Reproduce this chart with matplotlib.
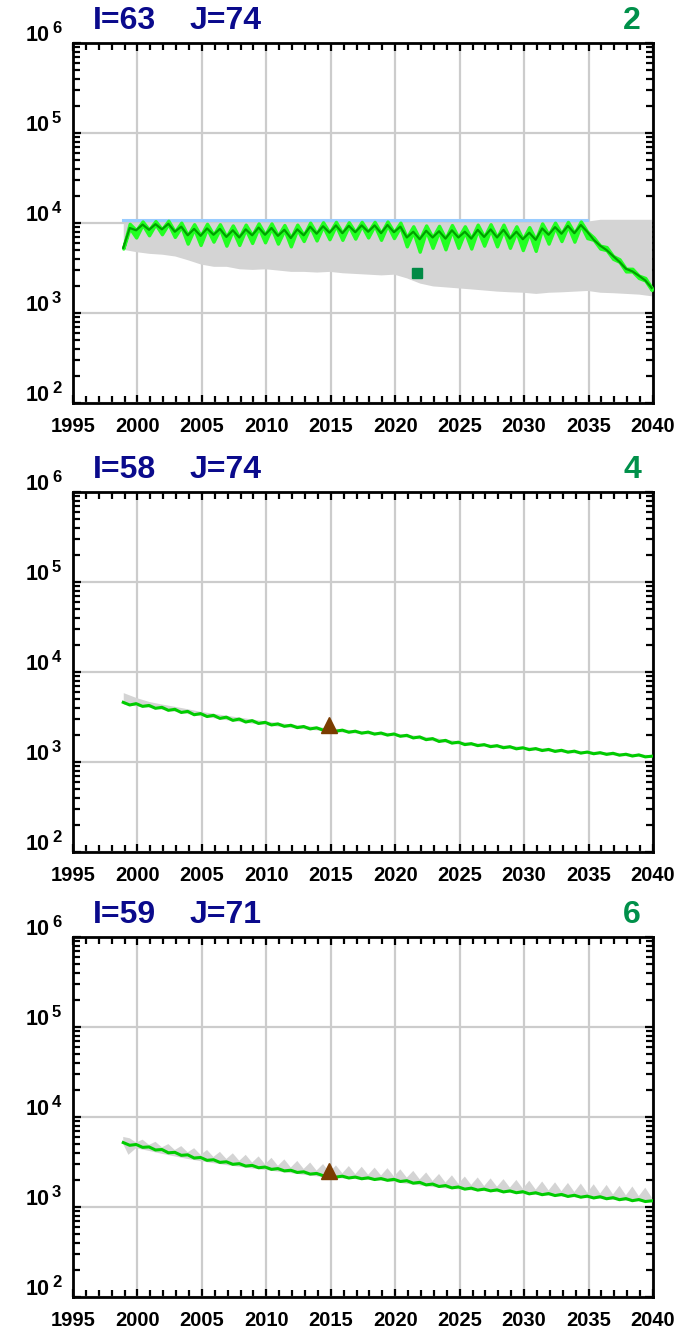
import numpy as np
import matplotlib
matplotlib.use('Agg')
import matplotlib.pyplot as plt
from matplotlib.ticker import FixedLocator, MultipleLocator, LogLocator, NullFormatter
import matplotlib.transforms as mtransforms

plt.rcParams['font.family'] = ['Liberation Sans', 'DejaVu Sans']
plt.rcParams['font.weight'] = 'bold'

# ---- data ----
# half-year sampling: "x.9" points and "x.4" points
t_x9 = np.arange(1998.9, 2040.0, 1.0)   # 42 points
t_x4 = np.arange(1999.4, 2040.0, 1.0)   # 41 points

panel_titles = [("I=63", "J=74", "2"), ("I=58", "J=74", "4"), ("I=59", "J=71", "6")]

# panel 1 median (dark green)
p1_med_x9 = [5300, 8300, 8400, 8500, 8000, 7300, 7200, 7400, 7000, 6900, 7300, 7400, 7200, 6800,
             7300, 7600, 7800, 7700, 7900, 8000, 7700, 7900, 6900, 6600, 6900, 6700, 6900, 6700,
             7000, 6900, 6700, 6600, 6500, 7400, 7600, 7700, 8000, 5600, 4300, 3100, 2600, 1900]
p1_med_x4 = [8800, 9600, 9700, 9800, 9100, 8600, 8700, 8600, 8300, 8500, 8900, 8800, 8400, 8500,
             9100, 9200, 9400, 9300, 9400, 9400, 9500, 9100, 8000, 8200, 8100, 8300, 8000, 8400,
             8500, 8400, 8000, 7800, 8700, 9000, 9300, 9500, 6500, 5000, 3700, 2900, 2300]
# panel 1 bright green envelope spikes
p1_env_lo_x9 = [5200, 6900, 7300, 7500, 7000, 5900, 5700, 6200, 5600, 5700, 6000, 6100, 5900, 5500,
                6300, 6400, 6600, 6500, 6700, 6900, 6500, 6800, 5500, 4800, 5300, 5100, 5300, 5200,
                5600, 5500, 5300, 5000, 4900, 5900, 6300, 6200, 6800, 5200, 4000, 2900, 2450, 1800]
p1_env_hi_x4 = [9800, 10400, 10500, 10600, 10100, 9700, 9800, 9700, 9400, 9600, 9900, 9900, 9500,
                9600, 10100, 10200, 10300, 10200, 10300, 10300, 10400, 10100, 9200, 9400, 9300,
                9500, 9200, 9600, 9700, 9600, 9200, 9000, 9900, 10100, 10300, 10400, 6900, 5400,
                3950, 3100, 2450]
# panel 1 gray ensemble range (yearly, at x.9)
p1_gray_hi = [10000, 10200, 10200, 10300, 10200, 10200, 10200, 10100, 10200, 10200, 10200, 10100,
              10200, 10200, 10200, 10200, 10200, 10200, 10200, 10200, 10200, 10200, 10200, 10200,
              10200, 10200, 10200, 10200, 10200, 10200, 10200, 10200, 10200, 10200, 10200, 10200,
              10500, 11000, 11000, 11000, 11000, 11000]
p1_gray_lo = [5100, 4800, 4600, 4500, 4300, 3900, 3500, 3300, 3300, 3100, 3050, 3100, 3000, 2900,
              2900, 2850, 2900, 2800, 2750, 2700, 2650, 2700, 2450, 2150, 2000, 1950, 1900, 1850,
              1800, 1750, 1720, 1700, 1650, 1700, 1720, 1750, 1780, 1700, 1680, 1650, 1620, 1550]
p1_blue_t = [1998.9, 2034.9]
p1_blue_v = [10900, 10900]
p1_square = (2021.7, 2800)

# panel 2 green line
p2_x9 = [4600, 4450, 4250, 4050, 3850, 3650, 3450, 3300, 3150, 3000, 2880, 2760, 2650, 2560,
         2480, 2400, 2330, 2260, 2200, 2150, 2100, 2050, 1980, 1900, 1820, 1740, 1660, 1600,
         1560, 1520, 1480, 1440, 1410, 1380, 1350, 1320, 1290, 1270, 1250, 1220, 1200, 1160]
p2_x4 = [4300, 4150, 3950, 3750, 3550, 3350, 3200, 3050, 2900, 2780, 2680, 2580, 2490, 2410,
         2330, 2260, 2200, 2140, 2090, 2040, 1990, 1930, 1850, 1770, 1690, 1620, 1560, 1520,
         1480, 1440, 1400, 1370, 1340, 1310, 1285, 1255, 1235, 1215, 1190, 1165, 1140]
p2_gray_hi = [5900, 5200, 4700, 4400, 4150, 3900, 3650, 3480, 3300, 3150, 3000, 2870, 2750, 2650,
              2560, 2470, 2400, 2330, 2270, 2210, 2160, 2110, 2040, 1960, 1880, 1800, 1720, 1650,
              1610, 1570, 1530, 1490, 1460, 1420, 1390, 1360, 1330, 1310, 1290, 1260, 1240, 1200]
p2_gray_lo = [4400, 4200, 4050, 3850, 3650, 3450, 3250, 3100, 2950, 2820, 2700, 2600, 2500, 2420,
              2340, 2270, 2210, 2150, 2100, 2050, 2000, 1950, 1880, 1800, 1720, 1650, 1580, 1530,
              1490, 1450, 1410, 1380, 1350, 1320, 1290, 1260, 1240, 1220, 1195, 1170, 1150, 1120]
p2_triangle = (2014.9, 2550)

# panel 3 green line
p3_x9 = [5200, 4950, 4650, 4350, 4050, 3800, 3550, 3350, 3180, 3030, 2900, 2780, 2670, 2560,
         2460, 2360, 2260, 2200, 2150, 2110, 2070, 2030, 1960, 1880, 1800, 1730, 1670, 1620,
         1580, 1550, 1510, 1480, 1440, 1410, 1380, 1350, 1320, 1300, 1270, 1240, 1210, 1170]
p3_x4 = [4850, 4600, 4300, 4000, 3750, 3500, 3300, 3130, 2980, 2850, 2730, 2620, 2520, 2420,
         2320, 2230, 2150, 2100, 2060, 2020, 1980, 1920, 1840, 1760, 1690, 1630, 1580, 1540,
         1510, 1470, 1440, 1400, 1370, 1340, 1310, 1285, 1260, 1235, 1205, 1175, 1150]
# panel 3 gray upper edge (spiky) and lower edge
p3_gray_hi_x9 = [6000, 5200, 4900, 4600, 4300, 4050, 3800, 3600, 3420, 3260, 3120, 2990, 2870,
                 2750, 2650, 2540, 2430, 2370, 2320, 2280, 2240, 2190, 2120, 2030, 1950, 1870,
                 1810, 1760, 1710, 1680, 1640, 1600, 1560, 1530, 1500, 1470, 1440, 1410, 1380,
                 1350, 1320, 1280]
p3_gray_hi_x4 = [5800, 5600, 5300, 5000, 4750, 4500, 4300, 4100, 3950, 3800, 3650, 3520, 3380,
                 3250, 3120, 3000, 2900, 2850, 2800, 2740, 2700, 2620, 2520, 2420, 2330, 2250,
                 2180, 2130, 2080, 2040, 2000, 1960, 1920, 1880, 1850, 1820, 1790, 1760, 1720,
                 1690, 1640]
p3_gray_lo = [5000, 3800, 4500, 4200, 3900, 3650, 3420, 3230, 3070, 2920, 2800, 2680, 2580, 2470,
              2380, 2280, 2190, 2130, 2080, 2040, 2000, 1960, 1890, 1810, 1740, 1670, 1610, 1570,
              1530, 1500, 1460, 1430, 1390, 1360, 1330, 1300, 1280, 1250, 1230, 1200, 1170, 1140]
p3_gray_lo_t = [1998.9, 1999.3, 1999.9, 2000.9, 2001.9, 2002.9, 2003.9, 2004.9, 2005.9, 2006.9,
                2007.9, 2008.9, 2009.9, 2010.9, 2011.9, 2012.9, 2013.9, 2014.9, 2015.9, 2016.9,
                2017.9, 2018.9, 2019.9, 2020.9, 2021.9, 2022.9, 2023.9, 2024.9, 2025.9, 2026.9,
                2027.9, 2028.9, 2029.9, 2030.9, 2031.9, 2032.9, 2033.9, 2034.9, 2035.9, 2036.9,
                2037.9, 2039.9]
p3_triangle = (2014.9, 2500)

x_ticks = [1995, 2000, 2005, 2010, 2015, 2020, 2025, 2030, 2035, 2040]
y_ticks = [1e2, 1e3, 1e4, 1e5, 1e6]
y_exponents = ['2', '3', '4', '5', '6']

NAVY = '#0a0a8c'
TAG_GREEN = '#00904a'
GRAY = '#d4d4d4'
LINE_GREEN = '#00cc00'
LIME = '#22ff22'
DARK_GREEN = '#00a000'
BROWN = '#7a3c00'


def interleave(a_x9, a_x4):
    # merge x.9 and x.4 samples into one time-ordered series
    t = np.empty(len(a_x9) + len(a_x4))
    v = np.empty_like(t)
    t[0::2], v[0::2] = t_x9, a_x9
    t[1::2], v[1::2] = t_x4, a_x4
    return t, v


fig = plt.figure(figsize=(7.0, 13.33), dpi=100)
bottoms = [1 - 403 / 1333, 1 - 852 / 1333, 1 - 1297 / 1333]
axes = [fig.add_axes([73 / 700, b, 580 / 700, 360 / 1333]) for b in bottoms]

for ax, (ti, tj, tag) in zip(axes, panel_titles):
    ax.set_yscale('log')
    ax.set_xlim(1995, 2040)
    ax.set_ylim(1e2, 1e6)
    ax.xaxis.set_major_locator(FixedLocator(x_ticks))
    ax.xaxis.set_minor_locator(MultipleLocator(1))
    ax.yaxis.set_major_locator(FixedLocator(y_ticks))
    ax.yaxis.set_minor_locator(LogLocator(base=10, subs=np.arange(2, 10)))
    ax.yaxis.set_minor_formatter(NullFormatter())
    ax.set_xticklabels([str(x) for x in x_ticks])
    ax.tick_params(which='both', direction='in', top=True, right=True, width=1.6, color='black')
    ax.tick_params(which='major', length=6)
    ax.tick_params(which='minor', length=5)
    ax.tick_params(axis='x', which='major', labelsize=14.5, pad=10)
    ax.tick_params(axis='y', which='both', labelleft=False)
    # y labels drawn as "10" + raised exponent
    trans = mtransforms.blended_transform_factory(ax.transAxes, ax.transData)
    for yv, ex in zip(y_ticks, y_exponents):
        ax.text(0, yv, '10', fontsize=15.5, fontweight='bold', ha='right', va='baseline',
                transform=trans + mtransforms.ScaledTranslation(-0.23, 0.02, fig.dpi_scale_trans))
        ax.text(0, yv, ex, fontsize=12, fontweight='bold', ha='left', va='baseline',
                transform=trans + mtransforms.ScaledTranslation(-0.21, 0.10, fig.dpi_scale_trans))
    for s in ax.spines.values():
        s.set_linewidth(2)
    ax.grid(True, which='major', color='#cccccc', lw=1.6)
    ax.set_axisbelow(True)
    ax.text(20 / 580, 1.02, ti, transform=ax.transAxes, color=NAVY, fontsize=23,
            fontweight='bold', ha='left', va='bottom')
    ax.text(117 / 580, 1.02, tj, transform=ax.transAxes, color=NAVY, fontsize=23,
            fontweight='bold', ha='left', va='bottom')
    ax.text(568 / 580, 1.02, tag, transform=ax.transAxes, color=TAG_GREEN, fontsize=23,
            fontweight='bold', ha='right', va='bottom')

# panel 1
ax = axes[0]
ax.fill_between(t_x9, p1_gray_lo, p1_gray_hi, color=GRAY, lw=0, zorder=2)
ax.plot(p1_blue_t, p1_blue_v, color='#99ccff', lw=2.2, zorder=3)
t_a, up = interleave(p1_med_x9, p1_env_hi_x4)
t_b, lo = interleave(p1_env_lo_x9, p1_med_x4)
ax.fill_between(t_a, lo, up, color=LIME, lw=2.4, edgecolor=LIME, zorder=4)
t_m, med = interleave(p1_med_x9, p1_med_x4)
ax.plot(t_m, med, color=DARK_GREEN, lw=1.6, zorder=5)
ax.plot([p1_square[0]], [p1_square[1]], marker='s', ms=7, color='#008a45', ls='none', zorder=6)

# panel 2
ax = axes[1]
ax.fill_between(t_x9, p2_gray_lo, p2_gray_hi, color=GRAY, lw=0, zorder=2)
t_m, v = interleave(p2_x9, p2_x4)
ax.plot(t_m, v, color=LINE_GREEN, lw=2.2, zorder=4)
ax.plot([p2_triangle[0]], [p2_triangle[1]], marker='^', ms=12, color=BROWN, ls='none', zorder=6)

# panel 3
ax = axes[2]
t_h, hi = interleave(p3_gray_hi_x9, p3_gray_hi_x4)
ax.fill(np.r_[t_h, p3_gray_lo_t[::-1]], np.r_[hi, p3_gray_lo[::-1]], color=GRAY, lw=0, zorder=2)
t_m, v = interleave(p3_x9, p3_x4)
ax.plot(t_m, v, color=LINE_GREEN, lw=2.2, zorder=4)
ax.plot([p3_triangle[0]], [p3_triangle[1]], marker='^', ms=12, color=BROWN, ls='none', zorder=6)

fig.savefig('out.png', dpi=100)
